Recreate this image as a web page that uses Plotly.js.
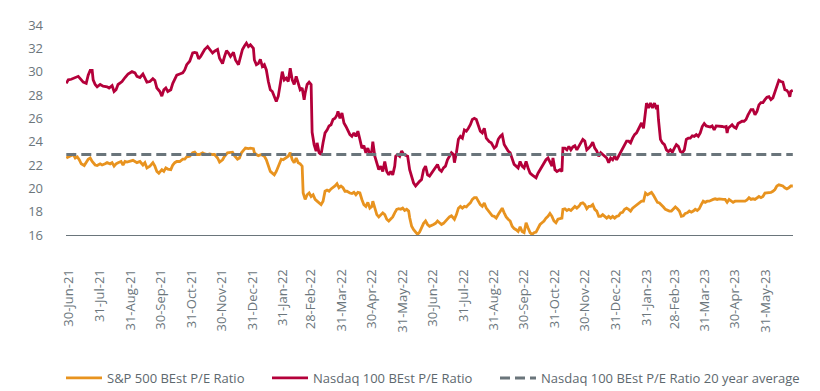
<!DOCTYPE html>
<html>
<head>
<meta charset="utf-8">
<script src="https://cdn.plot.ly/plotly-3.0.1.min.js"></script>
<style>
  html, body { margin: 0; padding: 0; background: #ffffff; }
  #chart { width: 820px; height: 391px; }
</style>
</head>
<body>
<div id="chart"></div>
<script>
// Day offsets are counted from 30-Jun-2021
const startDate = '2021-06-30';

const seriesNames = ['S&P 500 BEst P/E Ratio', 'Nasdaq 100 BEst P/E Ratio', 'Nasdaq 100 BEst P/E Ratio 20 year average'];

const spDays = [-3,-1,1,4,6,8,10,12,15,17,19,21,23,26,28,31,33,36,38,41,43,45,47,49,52,54,56,58,61,64,66,68,71,74,76,78,81,84,86,88,90,93,95,97,99,102,104,106,108,111,114,116,118,121,124,126,128,131,134,
136,139,141,144,146,149,151,154,156,159,161,164,166,169,171,173,175,177,180,182,185,186,188,190,193,196,198,200,202,204,206,208,211,213,215,217,220,222,224,226,228,230,232,234,235,237,239,241,243,245,247,249,251,253,255,257,259,261,263,265,267,269,271,273,275,277,279,
282,284,286,288,290,292,294,296,298,300,302,304,305,307,309,311,313,315,317,319,321,323,325,327,329,331,333,335,337,339,341,342,344,346,348,350,352,354,356,358,360,362,364,366,368,370,372,374,376,378,380,382,384,386,387,389,391,393,395,397,399,401,403,405,407,409,411,413,415,417,419,421,423,425,
427,429,431,433,435,437,439,441,443,445,447,449,451,453,455,457,459,461,463,465,467,469,471,473,475,477,479,481,483,485,487,489,491,493,495,496,498,500,502,504,506,508,510,512,514,516,518,520,522,524,526,528,530,532,534,536,538,540,542,544,546,548,550,552,554,556,558,560,562,564,566,568,570,
573,575,577,579,581,583,585,587,589,591,593,595,597,599,601,603,605,607,609,611,613,615,617,619,621,623,625,627,629,631,633,635,637,639,641,643,645,647,649,651,653,655,657,659,661,663,665,667,669,671,673,675,677,679,681,683,685,687,689,691,693,695,697,699,701,703,705,707,709,711,713,715,717,719,721,723,725,727];

const spValues = [22.6,22.7,22.8,22.9,22.6,22.7,22.45,22.1,21.95,22.2,22.5,22.6,22.3,22.0,21.95,22.1,22.0,22.1,22.2,22.1,22.2,21.9,22.1,22.2,22.3,22.0,22.3,22.25,22.3,22.4,22.3,22.2,22.3,22.0,22.2,21.75,21.9,22.2,21.9,21.45,21.3,21.6,21.45,21.75,21.65,21.6,22.0,22.2,22.3,22.3,22.5,22.5,22.7,22.75,23.05,23.1,22.9,22.9,23.05,
22.95,22.9,22.95,22.9,22.9,22.6,22.25,22.45,22.75,23.05,23.05,23.1,22.8,22.5,22.6,23.05,23.25,23.45,23.4,23.45,23.4,23.05,22.9,22.8,22.9,22.75,22.45,21.9,21.45,21.3,21.15,21.45,22.0,22.5,22.45,22.6,22.75,23.05,22.45,22.2,22.6,22.2,22.1,21.9,19.6,19.05,19.45,19.6,19.3,19.45,19.05,18.9,18.75,18.6,18.9,19.75,19.85,19.75,19.95,20.05,20.2,20.4,20.05,20.2,20.05,19.75,19.75,
19.6,19.55,19.65,19.45,19.65,19.6,19.05,18.6,18.45,18.8,18.3,18.45,18.9,18.2,17.75,17.55,17.75,17.9,17.75,17.35,17.2,17.4,17.55,17.9,18.2,18.25,18.2,18.3,18.1,18.2,18.05,17.5,16.75,16.45,16.2,16.05,16.25,16.6,17.0,17.2,16.9,16.75,16.8,16.9,17.0,17.2,17.05,16.9,17.0,17.2,17.4,17.55,17.65,17.45,17.35,17.75,18.3,18.45,18.3,18.45,18.4,18.6,18.75,19.05,19.2,19.2,18.9,18.6,18.45,18.75,18.3,18.05,17.9,17.65,
17.6,17.45,17.75,18.05,18.3,17.9,17.55,17.35,17.2,16.75,16.55,16.45,16.3,16.7,16.3,16.2,17.05,16.6,16.2,16.05,16.2,16.25,16.6,16.9,17.05,17.2,17.45,17.6,17.85,17.6,17.2,17.05,17.35,17.4,17.45,18.2,18.25,18.1,18.2,18.1,18.25,18.45,18.3,18.45,18.7,18.75,18.6,18.25,18.45,18.45,18.6,18.2,18.05,17.6,17.6,17.75,17.6,17.45,17.6,17.45,17.6,17.45,17.6,17.65,17.9,17.95,18.2,18.3,18.2,18.05,18.3,18.45,18.6,
18.75,18.9,18.9,19.6,19.45,19.55,19.65,19.4,19.05,18.8,18.75,18.6,18.4,18.2,18.1,18.05,18.05,18.2,18.4,18.25,18.05,17.6,17.65,17.85,17.9,18.05,17.95,18.05,18.2,18.1,18.25,18.6,18.9,18.8,18.9,18.9,19.0,19.05,19.1,19.05,19.1,19.05,19.05,19.05,18.8,19.05,18.9,18.8,18.9,18.9,18.9,18.9,18.9,18.9,19.0,19.2,19.05,19.1,19.05,19.2,19.3,19.2,19.3,19.6,19.6,19.65,19.65,19.75,19.9,20.2,20.3,20.25,20.2,20.05,19.95,20.05,20.2,20.2];

const ndxDays = [-3,-1,2,6,9,11,14,17,19,21,23,24,26,28,31,34,38,40,43,45,47,49,53,56,59,63,66,68,71,74,76,78,81,84,86,88,91,93,95,97,99,102,104,106,108,111,114,116,118,121,124,126,128,130,132,134,
136,139,141,144,146,149,151,154,156,158,160,162,165,167,170,172,174,176,178,180,182,185,186,188,190,192,194,196,198,200,202,204,206,208,210,212,214,216,218,220,222,224,226,228,230,232,234,236,237,239,241,243,244,246,248,249,251,253,255,257,259,261,263,265,267,269,270,272,274,276,278,
282,284,286,288,290,292,294,296,298,300,302,304,305,307,309,311,313,315,317,319,321,323,325,327,328,330,332,334,336,338,340,342,344,346,348,350,352,354,356,358,360,362,364,366,368,370,372,374,376,378,380,382,384,386,387,389,391,393,395,397,399,401,403,405,407,409,411,413,415,417,419,422,424,
427,429,431,433,435,437,439,441,443,445,447,449,451,453,455,457,459,461,463,465,467,469,471,473,475,477,479,481,483,485,486,488,490,493,495,496,498,500,502,504,506,508,510,512,514,516,518,520,522,524,526,528,530,532,534,536,538,540,542,544,546,548,550,552,554,556,558,560,562,564,566,568,570,
573,575,577,578,580,582,584,586,588,590,591,592,594,596,598,600,602,604,606,608,610,612,614,616,618,620,622,624,626,628,630,632,634,636,638,640,642,644,646,648,650,652,654,656,658,660,661,662,664,666,668,670,672,674,676,678,680,682,685,687,689,691,693,695,697,699,701,703,705,707,709,711,713,715,717,719,721,723,724,725,727];

const ndxValues = [29.0,29.3,29.35,29.5,29.6,29.4,29.1,29.0,29.7,30.1,30.1,29.3,28.9,28.7,28.9,28.75,28.7,28.6,28.8,28.3,28.45,28.9,29.15,29.5,29.8,30.0,29.9,29.6,29.5,29.8,29.4,29.1,29.15,29.4,29.25,28.6,28.3,27.9,28.45,28.6,28.3,28.45,29.0,29.3,29.7,29.8,29.9,30.15,30.6,30.9,31.6,31.65,31.6,31.1,31.3,31.6,
31.9,32.15,31.9,31.6,31.75,31.9,31.15,30.7,31.3,31.8,31.6,31.3,31.65,31.0,30.6,31.15,31.9,32.2,32.45,32.15,32.3,32.0,31.0,30.6,30.7,31.05,30.45,30.6,30.15,29.15,28.45,28.3,27.9,27.45,27.9,29.0,30.0,29.3,29.45,29.15,30.3,29.3,28.9,29.6,28.9,28.45,28.6,27.6,28.15,28.9,29.1,28.9,24.8,23.75,23.2,23.9,23.05,22.9,23.9,24.75,25.0,25.35,25.45,25.9,26.0,26.3,26.6,26.0,26.45,25.6,25.3,
24.6,24.45,24.75,24.45,24.9,24.2,23.45,23.65,23.05,23.45,22.9,23.2,24.0,22.75,22.2,21.6,21.9,21.45,22.3,21.45,21.15,21.45,21.15,21.9,22.75,22.9,22.75,23.2,22.9,22.8,22.75,21.6,20.9,20.45,20.2,20.45,20.6,20.75,21.6,21.9,21.15,21.05,21.3,21.45,21.75,22.05,21.6,21.45,21.75,21.9,22.45,22.75,23.05,22.9,22.2,23.05,24.2,24.45,24.3,25.0,24.9,25.15,25.45,25.9,26.0,25.9,25.3,24.9,24.75,25.15,24.3,24.0,23.9,
23.45,23.6,24.2,24.45,24.6,23.75,23.45,23.2,23.05,22.45,22.05,21.9,21.75,22.3,21.9,21.75,22.3,21.75,21.3,21.15,21.0,20.9,21.3,21.6,21.9,22.2,22.45,22.6,22.3,21.9,22.6,21.6,21.45,21.6,21.45,23.45,23.45,23.3,23.6,23.3,23.55,23.65,23.3,23.6,23.9,24.2,24.05,23.3,23.45,23.65,23.95,23.45,23.2,22.75,23.05,22.9,22.75,22.6,22.2,22.6,22.45,22.75,22.45,22.75,23.05,23.45,23.75,24.05,24.05,23.9,24.3,24.6,24.75,
25.3,25.6,25.15,25.9,27.3,26.9,27.3,26.9,27.3,26.8,27.15,25.9,24.2,23.9,23.75,23.3,23.15,23.3,23.1,23.45,23.75,23.6,23.15,23.05,23.3,24.2,24.3,24.3,24.5,24.45,24.6,24.45,24.75,25.3,25.55,25.35,25.3,25.25,25.35,25.0,25.35,25.35,25.35,25.3,25.25,25.3,24.75,25.15,25.3,25.45,25.25,25.15,25.55,25.65,25.75,25.75,25.9,26.3,26.75,26.75,26.3,26.6,27.15,27.35,27.35,27.6,27.8,27.85,27.6,27.75,28.3,28.75,29.25,29.15,29.1,28.45,28.4,28.15,27.85,28.3,28.4];

const avgValue = 22.9;

const tickDates = ['2021-06-30','2021-07-31','2021-08-31','2021-09-30','2021-10-31','2021-11-30','2021-12-31','2022-01-31','2022-02-28','2022-03-31','2022-04-30','2022-05-31','2022-06-30','2022-07-31','2022-08-31','2022-09-30','2022-10-31','2022-11-30','2022-12-31','2023-01-31','2023-02-28','2023-03-31','2023-04-30','2023-05-31'];
const tickLabels = ['30-Jun-21','31-Jul-21','31-Aug-21','30-Sep-21','31-Oct-21','30-Nov-21','31-Dec-21','31-Jan-22','28-Feb-22','31-Mar-22','30-Apr-22','31-May-22','30-Jun-22','31-Jul-22','31-Aug-22','30-Sep-22','31-Oct-22','30-Nov-22','31-Dec-22','31-Jan-23','28-Feb-23','31-Mar-23','30-Apr-23','31-May-23'];

const yTicks = [16,18,20,22,24,26,28,30,32,34];

// helpers: day offset -> plotly date string
const baseMs = Date.parse(startDate + 'T00:00:00Z');
function toDate(d) {
  return new Date(baseMs + d * 86400000).toISOString().replace('T', ' ').replace('Z', '');
}
const spX = spDays.map(toDate);
const ndxX = ndxDays.map(toDate);
const avgX = [toDate(Math.min(spDays[0], ndxDays[0])), toDate(Math.max(spDays[spDays.length-1], ndxDays[ndxDays.length-1]))];

const ORANGE = '#e8931f';
const RED = '#b4003a';
const GREY = '#6a757b';
const TXT = '#6b767c';

const traces = [
  { x: spX, y: spValues, type: 'scatter', mode: 'lines', name: seriesNames[0],
    line: { color: ORANGE, width: 2.8 }, legend: 'legend', hoverinfo: 'skip' },
  { x: ndxX, y: ndxValues, type: 'scatter', mode: 'lines', name: seriesNames[1],
    line: { color: RED, width: 2.8 }, legend: 'legend2', hoverinfo: 'skip' },
  { x: avgX, y: [avgValue, avgValue], type: 'scatter', mode: 'lines', name: seriesNames[2],
    line: { color: GREY, width: 3, dash: '10px,5px' }, legend: 'legend3', hoverinfo: 'skip' }
];

const legendFont = { family: 'Open Sans, sans-serif', size: 13, color: '#5d686e' };
function legendAt(xpx) {
  return { orientation: 'h', xref: 'container', yref: 'container',
           x: xpx / 820, xanchor: 'left', y: (391 - 378) / 391, yanchor: 'middle',
           font: legendFont, bgcolor: 'rgba(0,0,0,0)', borderwidth: 0, itemwidth: 36 };
}

const layout = {
  width: 820, height: 391,
  margin: { l: 66, r: 27, t: 25, b: 156, pad: 0, autoexpand: false },
  paper_bgcolor: '#ffffff', plot_bgcolor: '#ffffff',
  showlegend: true,
  font: { family: 'Open Sans, sans-serif', size: 13, color: TXT },
  xaxis: {
    type: 'date',
    range: [toDate(-3.3), toDate(727.2)],
    tickvals: tickDates, ticktext: tickLabels,
    tickangle: -90,
    showgrid: false, zeroline: false,
    showline: true, linecolor: GREY, linewidth: 1,
    ticks: '', ticklabelstandoff: 28,
    automargin: false,
    tickfont: { family: 'Open Sans, sans-serif', size: 13, color: TXT }
  },
  yaxis: {
    range: [16, 34],
    tickvals: yTicks,
    showgrid: false, zeroline: false, showline: false,
    ticks: '', ticklabelstandoff: 22,
    automargin: false,
    tickfont: { family: 'Open Sans, sans-serif', size: 13, color: TXT }
  },
  legend: legendAt(61),
  legend2: legendAt(267),
  legend3: legendAt(495)
};

Plotly.newPlot('chart', traces, layout, { staticPlot: true, displayModeBar: false });
</script>
</body>
</html>
